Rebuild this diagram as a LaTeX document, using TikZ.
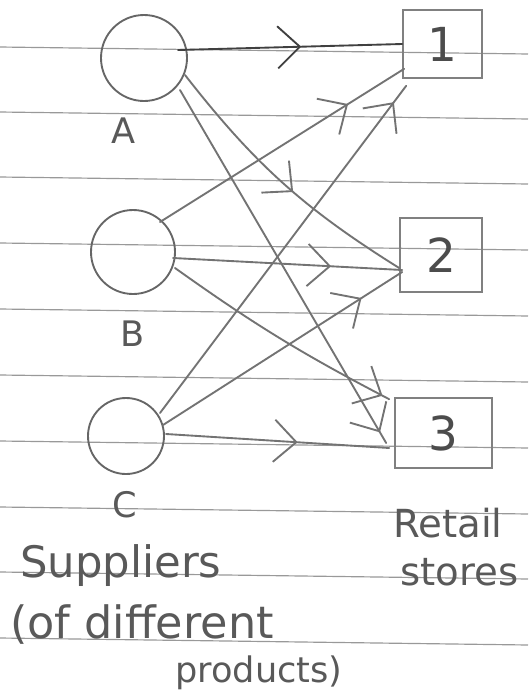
\documentclass[tikz,border=0pt]{standalone}
\usepackage{fontspec}
\setmainfont{DejaVu Sans}
\usetikzlibrary{arrows.meta,decorations.markings,calc}
\tikzset{
  pencil/.style={draw=black!55, line width=1.6pt, line cap=round},
  supplier/.style={circle, draw=black!60, line width=1.6pt, inner sep=0pt},
  store/.style={rectangle, draw=black!50, line width=1.4pt, inner sep=0pt, font=\fontsize{40}{40}\selectfont, text=black!70},
  hand/.style={text=black!65, inner sep=0pt},
  flow/.style={pencil, postaction={decorate},
    decoration={markings, mark=at position #1 with {\arrow{Straight Barb[length=19pt,width=36pt]}}}},
  ruling/.style={draw=black!40, line width=1pt}
}
\begin{document}
\begin{tikzpicture}[x=0.03cm, y=-0.03cm]
\useasboundingbox (0,0) rectangle (528,695);
\fill[white] (0,0) rectangle (528,695);
% ruled paper
\foreach \yy in {47,112,177,243,309,375,441,507,572,638}
  \draw[ruling] (0,\yy) -- (528,\yy+7);

% suppliers
\node[supplier, minimum size=2.58cm] (A) at (144,58) {};
\node[supplier, minimum size=2.52cm] (B) at (133,252) {};
\node[supplier, minimum size=2.28cm] (C) at (126,436) {};
\node[hand, font=\fontsize{30}{30}\selectfont] (lA) at (124,131) {A};
\node[hand, font=\fontsize{30}{30}\selectfont] (lB) at (133,334) {B};
\node[hand, font=\fontsize{30}{30}\selectfont] (lC) at (125,505) {C};

% stores
\node[store, minimum width=2.37cm, minimum height=2.04cm] (b1) at (442.5,44) {1};
\node[store, minimum width=2.46cm, minimum height=2.22cm] (b2) at (441,255) {2};
\node[store, minimum width=2.91cm, minimum height=2.10cm] (b3) at (443.5,433) {3};

% flows from A
\draw[flow=0.55, draw=black!75] ($(A.center)+(34,-8)$) -- (b1.west);
\draw[flow=0.55] ($(A.center)+(41,17)$) to[bend right=10] ($(b2.west)+(0,13)$);
\draw[flow=0.97] ($(A.center)+(36,32)$) -- ($(b3.west)+(-8,10)$);
% flows from B
\draw[flow=0.77] ($(B.center)+(27,-30)$) -- ($(b1.south west)+(2,-10)$);
\draw[flow=0.69] ($(B.center)+(40,6)$) -- ($(b2.west)+(3,15)$);
\draw[flow=0.97] ($(B.center)+(42,16)$) to[bend right=4] ($(b3.north west)+(-5,2)$);
% flows from C
\draw[flow=0.95] ($(C.center)+(34,-23)$) -- ($(b1.south west)+(4,7)$);
\draw[flow=0.83] ($(C.center)+(37,-11)$) -- ($(b2.west)+(3,17)$);
\draw[flow=0.59] ($(C.center)+(40,-2)$) -- ($(b3.west)+(-5,15)$);

% captions
\node[hand, anchor=base west, font=\fontsize{37}{37}\selectfont] (sup) at (20,577) {Suppliers};
\node[hand, anchor=base west, font=\fontsize{38}{38}\selectfont] (of) at (10,638) {(of different};
\node[hand, anchor=base west, font=\fontsize{30}{30}\selectfont] (prod) at (175,682) {products)};
\node[hand, anchor=base west, font=\fontsize{33}{33}\selectfont] (ret) at (393,537) {Retail};
\node[hand, anchor=base west, font=\fontsize{33}{33}\selectfont] (sto) at (400,585) {stores};
\end{tikzpicture}
\end{document}
